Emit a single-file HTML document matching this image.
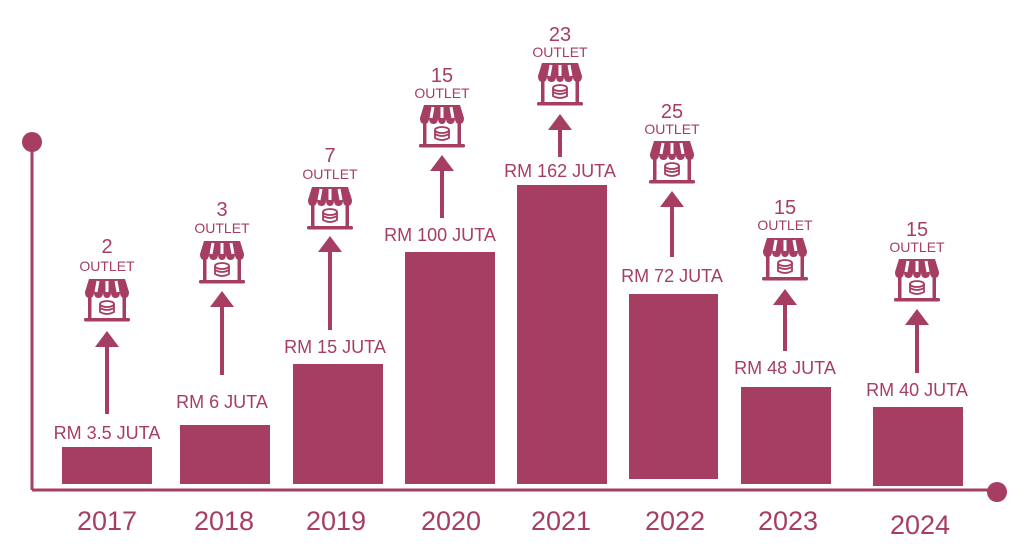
<!DOCTYPE html>
<html><head><meta charset="utf-8"><style>
html,body{margin:0;padding:0;background:#fff;}
svg{display:block;font-family:"Liberation Sans",sans-serif;}
</style></head><body>
<svg width="1024" height="550" viewBox="0 0 1024 550">
<defs>
<symbol id="shop" viewBox="0 0 46 46">
<path d="M5 1 H41 L45 14 Q45 20 40.5 20 Q36 20 36 14 Q36 20 31.5 20 Q27 20 27 14 Q27 20 23 20 Q19 20 19 14 Q19 20 14.5 20 Q10 20 10 14 Q10 20 5.5 20 Q1 20 1 14 Z" fill="#a63d63"/>
<path d="M14 3 L12 14 M23 3 V14 M32 3 L34 14" stroke="#fff" stroke-width="3"/>
<rect x="4" y="18" width="3.5" height="23" fill="#a63d63"/>
<rect x="38.5" y="18" width="3.5" height="23" fill="#a63d63"/>
<rect x="0" y="40" width="46" height="3.5" rx="1.5" fill="#a63d63"/>
<ellipse cx="23" cy="26" rx="7" ry="3" fill="none" stroke="#a63d63" stroke-width="1.8"/>
<path d="M16 26 V34 Q23 38 30 34 V26 M16 30 Q23 34 30 30" fill="none" stroke="#a63d63" stroke-width="1.8"/>
</symbol>
</defs>
<g fill="#a63d63">
<line x1="32" y1="142" x2="32" y2="490" stroke="#a63d63" stroke-width="3"/>
<line x1="32" y1="490" x2="997" y2="490" stroke="#a63d63" stroke-width="3"/>
<circle cx="32" cy="142" r="10"/>
<circle cx="997" cy="492" r="10"/>
<rect x="62" y="447" width="90" height="37"/>
<rect x="180" y="425" width="90" height="59"/>
<rect x="293" y="364" width="90" height="120"/>
<rect x="405" y="252" width="90" height="232"/>
<rect x="517" y="185" width="90" height="299"/>
<rect x="629" y="294" width="89" height="185"/>
<rect x="741" y="387" width="90" height="97"/>
<rect x="873" y="407" width="90" height="79"/>
</g>
<g stroke="#a63d63" stroke-width="4">
<line x1="107" y1="342" x2="107" y2="414"/>
<line x1="222" y1="302" x2="222" y2="375"/>
<line x1="330" y1="247" x2="330" y2="330"/>
<line x1="442" y1="166" x2="442" y2="218"/>
<line x1="560" y1="125" x2="560" y2="157"/>
<line x1="672" y1="202" x2="672" y2="257"/>
<line x1="785" y1="300" x2="785" y2="351"/>
<line x1="917" y1="320" x2="917" y2="373"/>
</g>
<g fill="#a63d63">
<path d="M95 347 L107 331 L119 347Z"/><path d="M210 307 L222 291 L234 307Z"/>
<path d="M318 252 L330 236 L342 252Z"/><path d="M430 171 L442 155 L454 171Z"/>
<path d="M548 130 L560 114 L572 130Z"/><path d="M660 207 L672 191 L684 207Z"/>
<path d="M773 305 L785 289 L797 305Z"/><path d="M905 325 L917 309 L929 325Z"/>
</g>
<use href="#shop" x="84" y="278" width="46" height="46"/>
<use href="#shop" x="199" y="240" width="46" height="46"/>
<use href="#shop" x="307" y="186" width="46" height="46"/>
<use href="#shop" x="419" y="104" width="46" height="46"/>
<use href="#shop" x="537" y="62" width="46" height="46"/>
<use href="#shop" x="649" y="140" width="46" height="46"/>
<use href="#shop" x="762" y="237" width="46" height="46"/>
<use href="#shop" x="894" y="258" width="46" height="46"/>
<g fill="#a63d63" text-anchor="middle" font-size="20">
<text x="107" y="253">2</text><text x="222" y="216">3</text><text x="330" y="162">7</text>
<text x="442" y="82">15</text><text x="560" y="41">23</text><text x="672" y="118">25</text>
<text x="785" y="214">15</text><text x="917" y="236">15</text>
</g>
<g fill="#a63d63" text-anchor="middle" font-size="14">
<text x="107" y="271">OUTLET</text><text x="222" y="233">OUTLET</text><text x="330" y="179">OUTLET</text>
<text x="442" y="98">OUTLET</text><text x="560" y="57">OUTLET</text><text x="672" y="134">OUTLET</text>
<text x="785" y="230">OUTLET</text><text x="917" y="252">OUTLET</text>
</g>
<g fill="#a63d63" text-anchor="middle" font-size="18">
<text x="107" y="439">RM 3.5 JUTA</text><text x="222" y="408">RM 6 JUTA</text>
<text x="335" y="353">RM 15 JUTA</text><text x="440" y="241">RM 100 JUTA</text>
<text x="560" y="177">RM 162 JUTA</text><text x="672" y="282">RM 72 JUTA</text>
<text x="785" y="374">RM 48 JUTA</text><text x="917" y="396">RM 40 JUTA</text>
</g>
<g fill="#a63d63" text-anchor="middle" font-size="27">
<text x="107" y="530">2017</text><text x="224" y="530">2018</text><text x="336" y="530">2019</text>
<text x="451" y="530">2020</text><text x="561" y="530">2021</text><text x="675" y="530">2022</text>
<text x="788" y="530">2023</text><text x="920" y="534">2024</text>
</g>
</svg>
</body></html>
